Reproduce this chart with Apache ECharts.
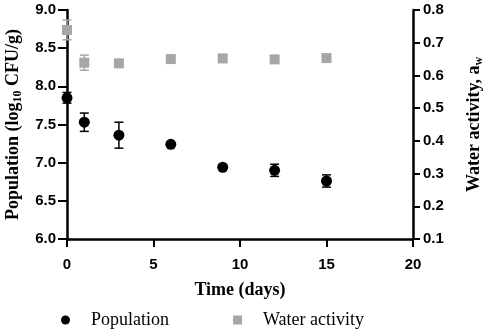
<!DOCTYPE html>
<html>
<head>
<meta charset="utf-8">
<script src="https://cdn.jsdelivr.net/npm/echarts@6/dist/echarts.min.js"></script>
<style>
html, body { margin: 0; padding: 0; background: #fff; }
#chart { width: 484px; height: 331px; }
</style>
</head>
<body>
<div id="chart"></div>
<script>
// sampling days
var days = [0, 1, 3, 6, 9, 12, 15];
// population, log10 CFU/g
var population = [7.85, 7.53, 7.36, 7.24, 6.94, 6.90, 6.76];
var populationErr = [0.07, 0.12, 0.17, 0, 0, 0.08, 0.08];
// water activity
var waterActivity = [0.739, 0.639, 0.637, 0.650, 0.652, 0.649, 0.653];
var waterErr = [0.03, 0.023, 0, 0, 0, 0, 0];

var black = '#000000';
var grey = '#a6a6a6';
var tickFont = { fontFamily: 'Liberation Sans', fontWeight: 'bold', fontSize: 15, color: black };
var titleFont = 'Liberation Serif';
var titleRich = {
	a: { fontFamily: titleFont, fontWeight: 'bold', fontSize: 18, color: black },
	s: { fontFamily: titleFont, fontWeight: 'bold', fontSize: 12, color: black, padding: [9, 0, 0, 0] }
};

function pointData(vals) {
	var out = [];
	for (var i = 0; i < days.length; i++) out.push([days[i], vals[i]]);
	return out;
}
function errData(vals, errs) {
	var out = [];
	for (var i = 0; i < days.length; i++) {
		if (errs[i] > 0) out.push([days[i], vals[i] - errs[i], vals[i] + errs[i]]);
	}
	return out;
}
// error bar drawing
function errRender(color) {
	return function(params, api) {
		var lo = api.coord([api.value(0), api.value(1)]);
		var hi = api.coord([api.value(0), api.value(2)]);
		var w = 4.5;
		var style = { stroke: color, lineWidth: 1.5 };
		return {
			type: 'group',
			children: [
				{ type: 'line', shape: { x1: lo[0], y1: lo[1], x2: hi[0], y2: hi[1] }, style: style },
				{ type: 'line', shape: { x1: lo[0] - w, y1: lo[1], x2: lo[0] + w, y2: lo[1] }, style: style },
				{ type: 'line', shape: { x1: hi[0] - w, y1: hi[1], x2: hi[0] + w, y2: hi[1] }, style: style }
			]
		};
	};
}

var myChart = echarts.init(document.getElementById('chart'));
var option = {
	animation: false,
	backgroundColor: '#fff',
	grid: { left: 67, right: 71, top: 10, bottom: 92, containLabel: false, outerBoundsMode: 'none' },
	legend: {
		left: 56,
		top: 306,
		itemGap: 64,
		itemWidth: 9,
		itemHeight: 9,
		textStyle: { fontFamily: titleFont, fontSize: 18, color: black, padding: [0, 0, 0, 16] },
		data: [
			{ name: 'Population', icon: 'circle', itemStyle: { color: black } },
			{ name: 'Water activity', icon: 'rect', itemStyle: { color: grey } }
		]
	},
	xAxis: {
		type: 'value',
		min: 0,
		max: 20,
		interval: 5,
		name: 'Time (days)',
		nameLocation: 'middle',
		nameGap: 42,
		nameTextStyle: { fontFamily: titleFont, fontWeight: 'bold', fontSize: 18, color: black },
		axisLine: { lineStyle: { color: black, width: 2.5 } },
		axisTick: { show: true, length: 8, lineStyle: { color: black, width: 2 } },
		axisLabel: Object.assign({ margin: 18 }, tickFont),
		splitLine: { show: false }
	},
	yAxis: [{
		type: 'value',
		min: 6,
		max: 9,
		interval: 0.5,
		position: 'left',
		name: '{a|Population (log}{s|10}{a| CFU/g)}',
		nameLocation: 'middle',
		nameRotate: 90,
		nameGap: 43,
		nameTextStyle: { rich: titleRich },
		axisLine: { show: true, lineStyle: { color: black, width: 2.5 } },
		axisTick: { show: true, length: 9, lineStyle: { color: black, width: 2 } },
		axisLabel: Object.assign({ margin: 11, formatter: function(v) { return v.toFixed(1); } }, tickFont),
		splitLine: { show: false }
	}, {
		type: 'value',
		min: 0.1,
		max: 0.8,
		interval: 0.1,
		position: 'right',
		name: '{a|Water activity, a}{s|w}',
		nameLocation: 'middle',
		nameRotate: 90,
		nameGap: 51,
		nameTextStyle: { rich: titleRich },
		axisLine: { show: true, lineStyle: { color: black, width: 2.5 } },
		axisTick: { show: true, length: 7, lineStyle: { color: black, width: 2 } },
		axisLabel: Object.assign({ margin: 10, formatter: function(v) { return v.toFixed(1); } }, tickFont),
		splitLine: { show: false }
	}],
	series: [{
		name: 'Water activity',
		type: 'custom',
		yAxisIndex: 1,
		clip: false,
		silent: true,
		renderItem: errRender(grey),
		data: errData(waterActivity, waterErr),
		z: 2
	}, {
		name: 'Water activity',
		type: 'scatter',
		yAxisIndex: 1,
		symbol: 'rect',
		symbolSize: 10,
		clip: false,
		itemStyle: { color: grey, opacity: 1 },
		data: pointData(waterActivity),
		z: 3
	}, {
		name: 'Population',
		type: 'custom',
		yAxisIndex: 0,
		clip: false,
		silent: true,
		renderItem: errRender(black),
		data: errData(population, populationErr),
		z: 4
	}, {
		name: 'Population',
		type: 'scatter',
		yAxisIndex: 0,
		symbol: 'circle',
		symbolSize: 11,
		clip: false,
		itemStyle: { color: black, opacity: 1 },
		data: pointData(population),
		z: 5
	}]
};
myChart.setOption(option);
</script>
</body>
</html>
